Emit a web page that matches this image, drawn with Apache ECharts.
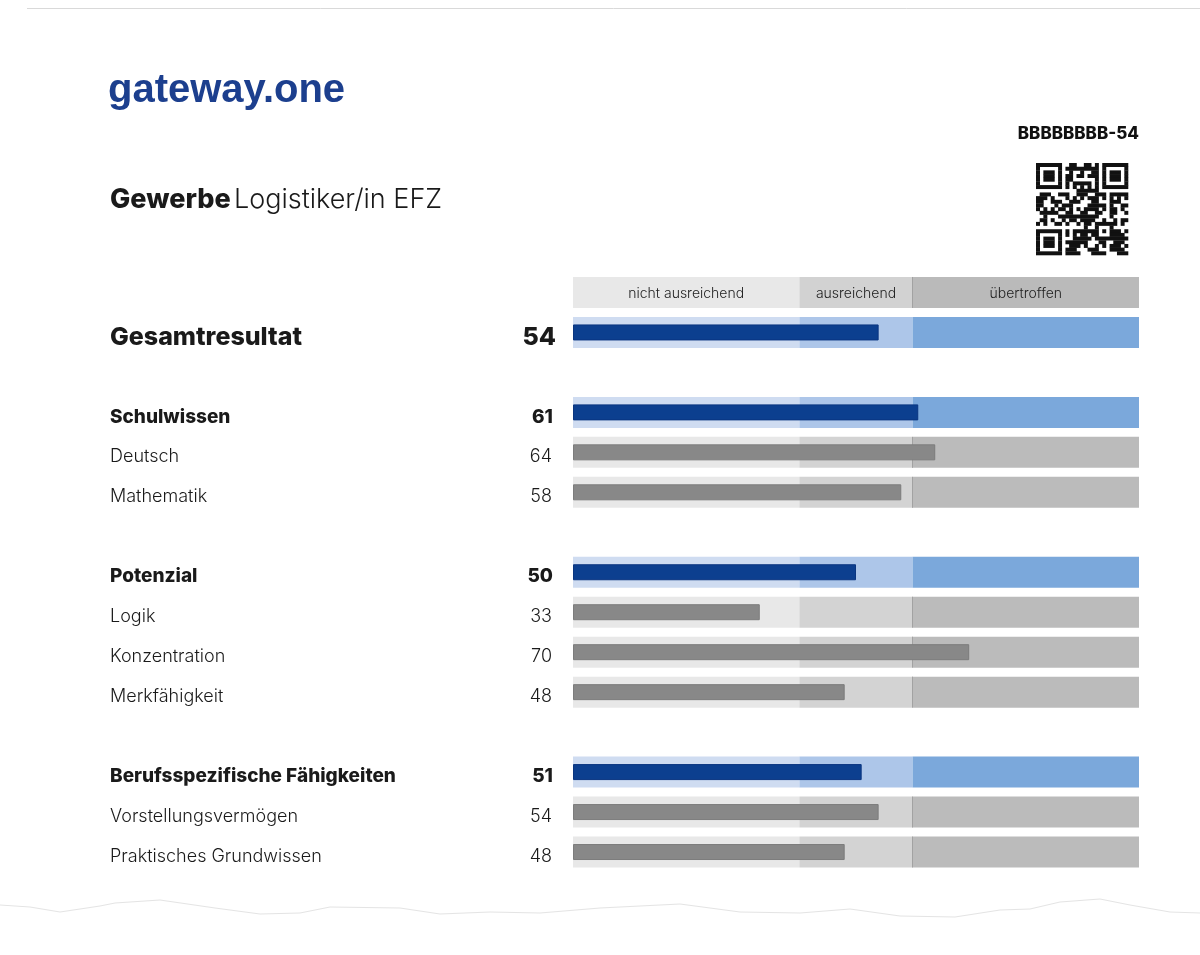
<!DOCTYPE html>
<html>
<head>
<meta charset="utf-8">
<script src="https://cdn.jsdelivr.net/npm/echarts@6/dist/echarts.min.js"></script>
<style>
html,body{margin:0;padding:0;background:#fff;}
#chart{width:1200px;height:955px;}
</style>
</head>
<body>
<div id="chart"></div>
<script>
// ---- data ----
const rowLabels = ['Gesamtresultat','Schulwissen','Deutsch','Mathematik','Potenzial','Logik','Konzentration','Merkfähigkeit','Berufsspezifische Fähigkeiten','Vorstellungsvermögen','Praktisches Grundwissen'];
const rowScores = [54,61,64,58,50,33,70,48,51,54,48];
const rowKinds  = ['total','group','item','item','group','item','item','item','group','item','item'];
const bandNames = ['nicht ausreichend','ausreichend','übertroffen'];
const bandLimits = [40,60,100];
const titleBold = 'Gewerbe';
const titleLight = 'Logistiker/in EFZ';
const codeText = 'BBBBBBBB-54';
const logoText = 'gateway.one';

// ---- build slots ----
const slots = [{kind:'header'}];
rowLabels.forEach((lab,i)=>{
  if (rowKinds[i]==='group') slots.push({kind:'spacer'});
  slots.push({kind:rowKinds[i], label:lab, score:rowScores[i]});
});
const cats = slots.map((s,i)=>String(i));

const bandWidths = bandLimits.map((v,i)=> v - (i? bandLimits[i-1]:0));
const palette = {
  header:['#e8e8e8','#d2d2d2','#bababa'],
  total:['#cfdcf1','#adc6e9','#7ba8db'],
  group:['#cfdcf1','#adc6e9','#7ba8db'],
  item:['#e8e8e8','#d3d3d3','#bbbbbb']
};
const FONT = 'Inter, Roboto, sans-serif';

const bandSeries = bandWidths.map((w,b)=>({
  type:'bar', stack:'bands', yAxisIndex:0, barWidth:31, silent:true,
  data: slots.map(s=> s.kind==='spacer' ? '-' : {
    value:w,
    itemStyle:{color:palette[s.kind][b]},
    label: s.kind==='header' ? {show:true, position:'inside', formatter:bandNames[b], color:'#222', fontSize:14, fontFamily:FONT, fontWeight:300, offset:[0,1]} : {show:false}
  })
}));

// thin divider at the upper band limit for grey and header rows
const dividerSeries = {
  type:'custom', yAxisIndex:0, silent:true, z:4,
  data: slots.map((s,i)=> (s.kind==='item'||s.kind==='header') ? [bandLimits[1], i] : null).filter(Boolean),
  renderItem:(params, api)=>{
    const p = api.coord([api.value(0), api.value(1)]);
    const x = Math.round(p[0]) - 0.5;
    return {type:'line', shape:{x1:x, y1:p[1]-15.5, x2:x, y2:p[1]+15.5}, style:{stroke:'#a2a2a2', lineWidth:1}};
  }
};

const valueSeries = {
  type:'bar', yAxisIndex:1, barWidth:16, silent:true, z:5,
  data: slots.map(s=> (s.kind==='spacer'||s.kind==='header') ? '-' : {
    value:s.score,
    itemStyle: s.kind==='item' ? {color:'#888888', borderColor:'#7c7c7c', borderWidth:1}
                               : {color:'#0c3f8f', borderColor:'#0a3580', borderWidth:1}
  })
};

function labelFmt(v){
  const s = slots[+v];
  if (!s.label) return '';
  return '{' + s.kind + '|' + s.label + '}';
}
function scoreFmt(v){
  const s = slots[+v];
  if (s.score===undefined) return '';
  return '{' + s.kind + 'S|' + s.score + '}';
}
const richStyles = {
  total:{fontSize:25, fontWeight:800, color:'#1a1a1a', fontFamily:FONT, padding:[10,0,0,0]},
  group:{fontSize:19, fontWeight:800, color:'#1a1a1a', fontFamily:FONT, padding:[9,0,0,0]},
  item:{fontSize:18, fontWeight:300, color:'#1a1a1a', fontFamily:FONT, padding:[9,0,0,0]},
  totalS:{fontSize:25, fontWeight:800, color:'#1a1a1a', fontFamily:FONT, padding:[10,0,0,0]},
  groupS:{fontSize:19, fontWeight:800, color:'#1a1a1a', fontFamily:FONT, padding:[9,3,0,0]},
  itemS:{fontSize:18, fontWeight:300, color:'#1a1a1a', fontFamily:FONT, padding:[9,4,0,0]}
};

// ---- QR-like decorative pattern ----
function qrMatrix(n){
  const m = [];
  for (let r=0;r<n;r++){ m.push([]); for (let c=0;c<n;c++){ const h=((r*73+c*151+r*c*37+17)%97); m[r].push(h%2===0 || h%7===0 ? 1:0);} }
  function finder(r0,c0){
    for(let r=-1;r<8;r++)for(let c=-1;c<8;c++){
      const rr=r0+r, cc=c0+c; if(rr<0||cc<0||rr>=n||cc>=n) continue;
      let v=0;
      if(r>=0&&r<7&&c>=0&&c<7){ v = (r===0||r===6||c===0||c===6||(r>=2&&r<=4&&c>=2&&c<=4))?1:0; }
      m[rr][cc]=v;
    }
  }
  finder(0,0); finder(0,n-7); finder(n-7,0);
  const a=n-9; for(let r=0;r<5;r++)for(let c=0;c<5;c++) m[a+r][a+c]=(r===0||r===4||c===0||c===4||(r===2&&c===2))?1:0;
  for(let i=8;i<n-8;i++){ m[6][i]=i%2===0?1:0; m[i][6]=i%2===0?1:0; }
  return m;
}
const qrEls = [];
(function(){
  const n=25, x0=1036, y0=163, ms=92/25;
  const m=qrMatrix(n);
  for(let r=0;r<n;r++){
    let c=0;
    while(c<n){
      if(m[r][c]){ let e=c; while(e<n&&m[r][e]) e++;
        qrEls.push({type:'rect', shape:{x:x0+c*ms, y:y0+r*ms, width:(e-c)*ms+0.3, height:ms+0.3}, style:{fill:'#111'}, silent:true});
        c=e; } else c++;
    }
  }
})();

const tornPts = [[0,905],[30,907],[60,912],[100,906],[115,903],[160,900],[215,908],[260,914],[300,913],[330,907],[400,908],[440,914],[490,912],[540,913],[600,908],[680,904],[740,912],[800,913],[850,909],[900,916],[955,917],[1000,910],[1030,909],[1060,902],[1100,899],[1130,905],[1170,912],[1200,913]];

const chart = echarts.init(document.getElementById('chart'), null, {renderer:'canvas'});
chart.setOption({
  animation:false,
  backgroundColor:'#ffffff',
  grid:{left:573, width:566, top:272.5, height:599.5},
  xAxis:{type:'value', min:0, max:100, show:false},
  yAxis:[
    {type:'category', data:cats, inverse:true, axisLine:{show:false}, axisTick:{show:false}, splitLine:{show:false},
     axisLabel:{show:true, interval:0, align:'left', margin:463, formatter:labelFmt, rich:richStyles}},
    {type:'category', data:cats, inverse:true, position:'left', axisLine:{show:false}, axisTick:{show:false}, splitLine:{show:false},
     axisLabel:{show:true, interval:0, align:'right', margin:17, formatter:scoreFmt, rich:richStyles}}
  ],
  series:[...bandSeries, dividerSeries, valueSeries],
  graphic:[
    {type:'line', shape:{x1:27,y1:8.5,x2:1200,y2:8.5}, style:{stroke:'#d9d9d9', lineWidth:1}, silent:true},
    {type:'text', left:108, top:71, style:{text:logoText, font:'bold 40px "Liberation Sans", Arial, sans-serif', fill:'#1c3f8e'}, silent:true},
    {type:'text', right:61, top:125, style:{text:codeText, font:'800 17px '+FONT, fill:'#111'}, silent:true},
    {type:'text', left:110, top:186, style:{
      text:'{b|'+titleBold+'} {l|'+titleLight+'}',
      rich:{b:{fontSize:27,fontWeight:800,fontFamily:FONT,fill:'#1a1a1a'}, l:{fontSize:27,fontWeight:300,fontFamily:FONT,fill:'#1a1a1a'}}
    }, silent:true},
    {type:'group', children:qrEls, silent:true},
    {type:'polyline', shape:{points:tornPts}, style:{stroke:'#e4e4e4', lineWidth:1, fill:null}, silent:true}
  ]
});
</script>
</body>
</html>
